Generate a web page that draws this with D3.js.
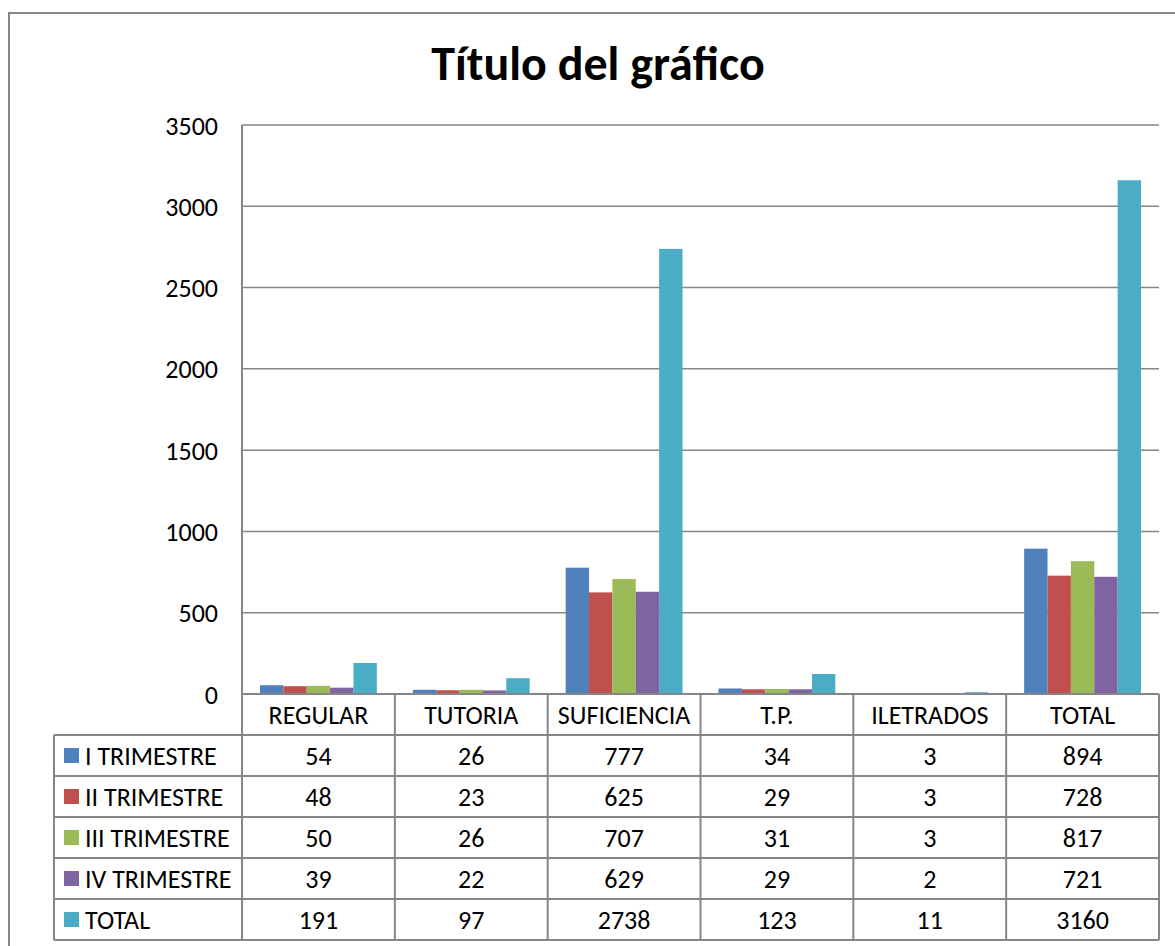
<!DOCTYPE html>
<html>
<head>
<meta charset="utf-8">
<script src="https://cdn.jsdelivr.net/npm/d3@7"></script>
<style>
  body { margin: 0; background: #fff; }
  svg text { font-family: Carlito, "Open Sans", "Noto Sans", sans-serif; fill: #000; }
</style>
</head>
<body>
<div id="chart"></div>
<script>
// datos
let categories = ["REGULAR", "TUTORIA", "SUFICIENCIA", "T.P.", "ILETRADOS", "TOTAL"];
let seriesNames = ["I TRIMESTRE", "II TRIMESTRE", "III TRIMESTRE", "IV TRIMESTRE", "TOTAL"];
let s1 = [54, 26, 777, 34, 3, 894];
let s2 = [48, 23, 625, 29, 3, 728];
let s3 = [50, 26, 707, 31, 3, 817];
let s4 = [39, 22, 629, 29, 2, 721];
let s5 = [191, 97, 2738, 123, 11, 3160];
let yTicks = [0, 500, 1000, 1500, 2000, 2500, 3000, 3500];
let colors = ["#4F81BD", "#C0504D", "#9BBB59", "#8064A2", "#4BACC6"];

const W = 1175, H = 946;
const plotL = 242, plotR = 1159, plotT = 125, zeroY = 694;
const rowH = 41, tableLeft = 54;
const gridCol = "#868686";
const fs = 26;

let series = [s1, s2, s3, s4, s5];

let svg = d3.select("#chart").append("svg")
    .attr("width", W).attr("height", H);

// marco exterior
svg.append("rect")
    .attr("x", 9).attr("y", 13)
    .attr("width", W + 20).attr("height", H + 20)
    .attr("fill", "none").attr("stroke", gridCol).attr("stroke-width", 2);

svg.append("text")
    .attr("x", 598).attr("y", 80)
    .attr("text-anchor", "middle")
    .attr("font-size", 48).attr("font-weight", "bold")
    .text("Título del gráfico");

let x0 = d3.scaleBand().domain(categories).range([plotL, plotR]).paddingInner(0).paddingOuter(0);
let x1 = d3.scaleBand().domain(d3.range(series.length)).range([0, x0.bandwidth()]).paddingOuter(0.77).paddingInner(0);
let y = d3.scaleLinear().domain([0, 3500]).range([zeroY, plotT]);

// rejilla
svg.append("g").selectAll("line")
    .data(yTicks)
    .join("line")
    .attr("x1", plotL).attr("x2", plotR)
    .attr("y1", d => y(d)).attr("y2", d => y(d))
    .attr("stroke", gridCol).attr("stroke-width", 1.5);

// eje y
let yAxis = svg.append("g")
    .attr("transform", `translate(${plotL},0)`)
    .call(d3.axisLeft(y).tickValues(yTicks).tickSize(0).tickPadding(24).tickFormat(d3.format("d")));
yAxis.select(".domain").remove();
yAxis.selectAll("text").attr("font-size", fs).attr("dy", "0.35em").style("font-family", "Carlito, 'Open Sans', sans-serif");

// barras
svg.append("g").selectAll("g")
    .data(categories)
    .join("g")
    .attr("transform", d => `translate(${x0(d)},0)`)
    .selectAll("rect")
    .data((c, ci) => series.map((s, si) => ({si: si, v: s[ci]})))
    .join("rect")
    .attr("x", d => x1(d.si))
    .attr("width", x1.bandwidth())
    .attr("y", d => y(d.v))
    .attr("height", d => zeroY - y(d.v))
    .attr("fill", d => colors[d.si]);

// tabla de datos
let tbl = svg.append("g");
let bottomY = zeroY + rowH * (series.length + 1);

// cabecera
tbl.selectAll(".cat")
    .data(categories)
    .join("text")
    .attr("class", "cat")
    .attr("x", d => x0(d) + x0.bandwidth() / 2)
    .attr("y", zeroY + rowH / 2)
    .attr("dy", "0.35em")
    .attr("text-anchor", "middle")
    .attr("font-size", fs)
    .text(d => d);

// lineas horizontales
for (let r = 1; r <= series.length + 1; r++) {
    tbl.append("line")
        .attr("x1", tableLeft).attr("x2", plotR)
        .attr("y1", zeroY + r * rowH).attr("y2", zeroY + r * rowH)
        .attr("stroke", gridCol).attr("stroke-width", 2);
}
tbl.append("line")
    .attr("x1", plotL).attr("x2", plotR)
    .attr("y1", zeroY).attr("y2", zeroY)
    .attr("stroke", gridCol).attr("stroke-width", 2);

// lineas verticales
tbl.append("line")
    .attr("x1", tableLeft).attr("x2", tableLeft)
    .attr("y1", zeroY + rowH).attr("y2", bottomY)
    .attr("stroke", gridCol).attr("stroke-width", 2);
tbl.append("line")
    .attr("x1", plotL).attr("x2", plotL)
    .attr("y1", plotT).attr("y2", bottomY)
    .attr("stroke", gridCol).attr("stroke-width", 2);
categories.forEach(c => {
    tbl.append("line")
        .attr("x1", x0(c) + x0.bandwidth()).attr("x2", x0(c) + x0.bandwidth())
        .attr("y1", zeroY).attr("y2", bottomY)
        .attr("stroke", gridCol).attr("stroke-width", 2);
});

// filas
series.forEach((s, si) => {
    let cy = zeroY + rowH * (si + 1) + rowH / 2;
    tbl.append("rect")
        .attr("x", 64).attr("y", cy - 7.5)
        .attr("width", 15).attr("height", 15)
        .attr("fill", colors[si]);
    tbl.append("text")
        .attr("x", 85).attr("y", cy).attr("dy", "0.35em")
        .attr("font-size", fs)
        .text(seriesNames[si]);
    tbl.selectAll(".v" + si)
        .data(s)
        .join("text")
        .attr("x", (d, i) => x0(categories[i]) + x0.bandwidth() / 2)
        .attr("y", cy).attr("dy", "0.35em")
        .attr("text-anchor", "middle")
        .attr("font-size", fs)
        .text(d => d);
});
</script>
</body>
</html>
